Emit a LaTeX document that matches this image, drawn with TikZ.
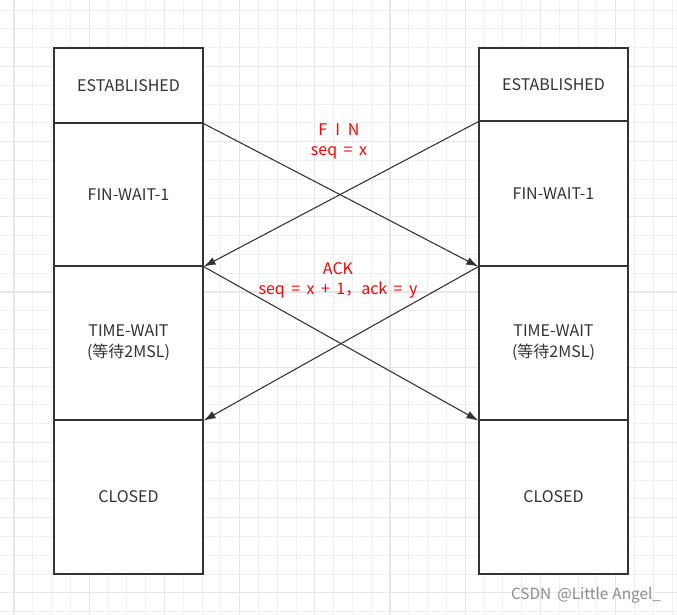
\documentclass[tikz,border=0pt]{standalone}
\usepackage{fontspec}
\setmainfont{Noto Sans CJK SC}[WordSpace=1.8]
\usepackage{xcolor}
\usetikzlibrary{arrows.meta, positioning}

\definecolor{edgegray}{HTML}{333333}
\definecolor{gridminor}{HTML}{F0F0F0}
\definecolor{gridmajor}{HTML}{E7E7E7}
\definecolor{msgred}{HTML}{FF0000}

\begin{document}
\begin{tikzpicture}[
  x=0.75pt, y=-0.75pt,
  >={Latex[length=9pt,width=6pt]},
  statebox/.style={draw=edgegray, line width=0.9pt, fill=white,
                   minimum width=111.75pt, inner sep=0pt,
                   font=\fontsize{12pt}{15.5pt}\selectfont,
                   text=edgegray, align=center},
  msg/.style={draw=edgegray, line width=0.8pt, ->},
  msglbl/.style={font=\fontsize{12pt}{15pt}\selectfont, text=msgred, align=center}
]
\useasboundingbox (0,0) rectangle (677,614);
\fill[white] (0,0) rectangle (677,614);

% background grid
\foreach \i in {0,...,35} {
  \draw[gridminor, line width=0.7pt] ({14+18.8*\i},0) -- ({14+18.8*\i},614);
  \draw[gridminor, line width=0.7pt] (0,{10+18.8*\i}) -- (677,{10+18.8*\i});
}
\foreach \i in {0,...,8} {
  \draw[gridmajor, line width=0.8pt] ({14+75.2*\i},0) -- ({14+75.2*\i},614);
  \draw[gridmajor, line width=0.8pt] (0,{66.4+75.2*\i}) -- (677,{66.4+75.2*\i});
}

% client side
\node[statebox, minimum height=56.25pt]  (l1) at (128.5,85.5) {ESTABLISHED};
\node[statebox, minimum height=107.25pt] (l2) at (128.5,194.5) {FIN-WAIT-1};
\node[statebox, minimum height=115.5pt]  (l3) at (128.5,343) {TIME-WAIT\\(等待2MSL)};
\node[statebox, minimum height=115.5pt]  (l4) at (128.5,497) {CLOSED};

% server side
\node[statebox, minimum height=54.75pt]  (r1) at (553.5,84.5) {ESTABLISHED};
\node[statebox, minimum height=108.75pt] (r2) at (553.5,193.5) {FIN-WAIT-1};
\node[statebox, minimum height=115.5pt]  (r3) at (553.5,343) {TIME-WAIT\\(等待2MSL)};
\node[statebox, minimum height=115.5pt]  (r4) at (553.5,497) {CLOSED};

% messages
\draw[msg] (l1.south east) -- (r2.south west);
\draw[msg] (r1.south west) -- (l2.south east);
\draw[msg] (l2.south east) -- (r3.south west);
\draw[msg] (r2.south west) -- (l3.south east);

\node[msglbl] (fin) at (339,141) {F\hspace{6pt}I\hspace{6pt}N\\seq = x};
\node[msglbl] (ack) at (338,280) {ACK\\seq = x + 1，ack = y};

\node[font=\fontsize{11.5pt}{12pt}\selectfont, text=black!45] (mark) at (586,595) {CSDN @Little\hspace{3pt}Angel\_};
\end{tikzpicture}
\end{document}
